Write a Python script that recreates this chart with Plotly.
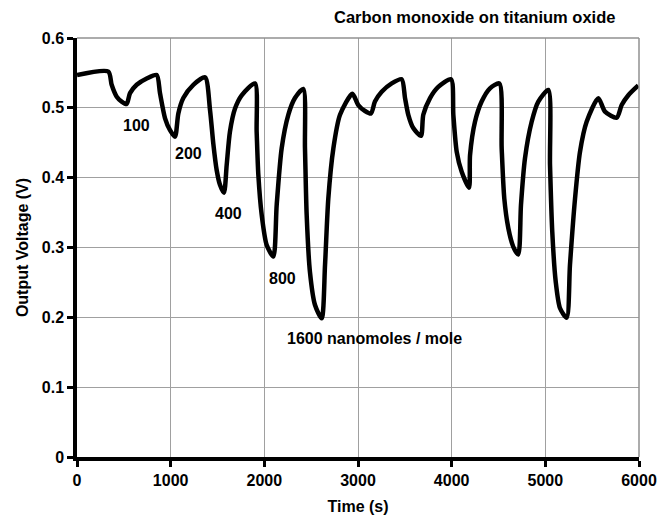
import plotly.graph_objects as go

# Time (s) and output voltage (V)
time_s = [0, 334, 370, 424, 477, 530, 566, 637, 744, 851,
          886, 940, 993, 1046, 1082, 1135, 1242, 1367,
          1420, 1455, 1491, 1527, 1569, 1598, 1633, 1687, 1758, 1900,
          1918, 1936, 1972, 2025, 2096, 2132, 2185, 2256, 2327, 2416,
          2434, 2452, 2487, 2541, 2612, 2648, 2683, 2737, 2808, 2940,
          3003, 3075, 3139, 3181, 3253, 3360, 3466,
          3502, 3537, 3590, 3672, 3697, 3769, 3857, 3993,
          4018, 4054, 4107, 4185, 4196, 4249, 4320, 4409, 4509,
          4534, 4562, 4605, 4658, 4711, 4740, 4783, 4854, 4925, 5032,
          5050, 5074, 5111, 5157, 5228, 5263, 5317, 5370, 5441, 5566,
          5637, 5762, 5815, 5886, 5992]
voltage_v = [0.547, 0.552, 0.533, 0.516, 0.509, 0.5055, 0.521, 0.533, 0.542, 0.547,
             0.521, 0.485, 0.468, 0.4587, 0.492, 0.514, 0.533, 0.5437,
             0.497, 0.449, 0.411, 0.3895, 0.3785, 0.418, 0.466, 0.499, 0.518, 0.535,
             0.466, 0.404, 0.3466, 0.3036, 0.287, 0.361, 0.442, 0.490, 0.514, 0.527,
             0.442, 0.3466, 0.265, 0.2177, 0.1986, 0.275, 0.370, 0.442, 0.490, 0.520,
             0.504, 0.4955, 0.492, 0.509, 0.523, 0.535, 0.541,
             0.514, 0.490, 0.471, 0.460, 0.490, 0.514, 0.530, 0.541,
             0.490, 0.437, 0.4085, 0.3857, 0.432, 0.480, 0.509, 0.528, 0.535,
             0.442, 0.370, 0.3275, 0.301, 0.290, 0.361, 0.428, 0.480, 0.509, 0.5256,
             0.418, 0.3226, 0.251, 0.213, 0.1995, 0.275, 0.370, 0.437, 0.480, 0.5137,
             0.4945, 0.486, 0.504, 0.518, 0.532]

# Concentration labels and their positions (data coords)
label_text = ["100", "200", "400", "800", "1600 nanomoles / mole"]
label_t = [630, 1190, 1617, 2189, 3181]
label_v = [0.474, 0.434, 0.348, 0.256, 0.169]

x_ticks = [0, 1000, 2000, 3000, 4000, 5000, 6000]
y_ticks = [0, 0.1, 0.2, 0.3, 0.4, 0.5, 0.6]

FONT = "Liberation Sans, Arial, sans-serif"

fig = go.Figure()
fig.add_trace(go.Scatter(x=time_s, y=voltage_v, mode="lines",
                         line=dict(color="black", width=4.5, shape="spline", smoothing=0.7),
                         showlegend=False, hoverinfo="skip"))

for txt, t, v in zip(label_text, label_t, label_v):
    fig.add_annotation(x=t, y=v, text=txt, showarrow=False,
                       font=dict(family=FONT, size=16, color="black", weight="bold"))

fig.add_annotation(xref="paper", yref="paper", x=1.0, y=1.0, xanchor="right", yanchor="bottom",
                   xshift=-22, yshift=10,
                   text="Carbon monoxide on titanium oxide", showarrow=False,
                   font=dict(family=FONT, size=16.5, color="black", weight="bold"))

fig.update_layout(
    width=669, height=525,
    margin=dict(l=77, r=30, t=38, b=68),
    paper_bgcolor="white", plot_bgcolor="white",
    font=dict(family=FONT, size=16, color="black"),
)
fig.update_xaxes(range=[0, 6000], tickvals=x_ticks, ticks="outside", ticklen=6, tickwidth=3,
                 tickcolor="black", showline=True, linewidth=3.5, linecolor="black",
                 showgrid=True, gridcolor="#a0a0a0", gridwidth=1, zeroline=False,
                 tickfont=dict(family=FONT, size=16, color="black", weight="bold"),
                 title=dict(text="Time (s)", standoff=14,
                            font=dict(family=FONT, size=16, color="black", weight="bold")))
fig.update_yaxes(range=[0, 0.6], tickvals=y_ticks, ticks="outside", ticklen=6, tickwidth=3,
                 tickcolor="black", showline=True, linewidth=3.5, linecolor="black",
                 showgrid=True, gridcolor="#a0a0a0", gridwidth=1, zeroline=False,
                 tickfont=dict(family=FONT, size=16, color="black", weight="bold"),
                 title=dict(text="Output Voltage (V)", standoff=10,
                            font=dict(family=FONT, size=16, color="black", weight="bold")))
# thin border on top and right like the original frame
fig.add_shape(type="line", xref="paper", yref="paper", x0=0, x1=1, y0=1, y1=1,
              line=dict(color="#909090", width=1.5))
fig.add_shape(type="line", xref="paper", yref="paper", x0=1, x1=1, y0=0, y1=1,
              line=dict(color="#909090", width=1.5))

fig.write_html("out.html")
